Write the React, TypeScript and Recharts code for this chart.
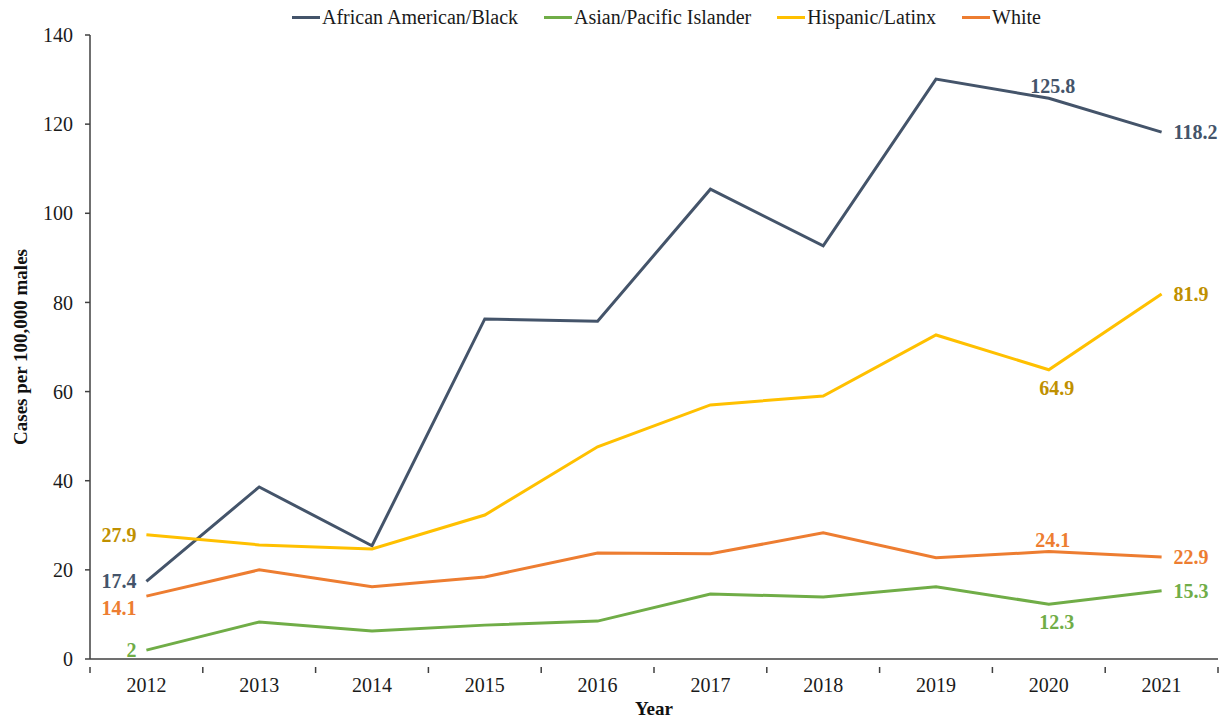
import React from 'react';
import { LineChart, Line, XAxis, YAxis, LabelList } from 'recharts';

// Cases per 100,000 males by race/ethnicity
const years = ['2012', '2013', '2014', '2015', '2016', '2017', '2018', '2019', '2020', '2021'];
const black = [17.4, 38.6, 25.4, 76.3, 75.8, 105.4, 92.7, 130.1, 125.8, 118.2];
const asian = [2, 8.3, 6.3, 7.6, 8.5, 14.6, 13.9, 16.2, 12.3, 15.3];
const hispanic = [27.9, 25.6, 24.7, 32.3, 47.6, 57.0, 59.0, 72.7, 64.9, 81.9];
const white = [14.1, 20.0, 16.2, 18.4, 23.8, 23.6, 28.3, 22.7, 24.1, 22.9];
const yTicks = [0, 20, 40, 60, 80, 100, 120, 140];

const data = years.map((year, i) => ({
  year,
  black: black[i],
  asian: asian[i],
  hispanic: hispanic[i],
  white: white[i],
}));

const FONT = '"Liberation Serif", "Times New Roman", serif';
const W = 1224;
const H = 720;
const M = { top: 35, right: 6, bottom: 0, left: 0 };
const Y_W = 90;
const X_H = 61;
const PLOT_W = W - M.left - M.right - Y_W;
const AXIS = '#404040';

const series = [
  { key: 'black', name: 'African American/Black', color: '#44546A', labelColor: '#44546A', spots: { 0: 'left', 8: 'top', 9: 'right' } },
  { key: 'asian', name: 'Asian/Pacific Islander', color: '#70AD47', labelColor: '#70AD47', spots: { 0: 'left', 8: 'bottom', 9: 'right' } },
  { key: 'hispanic', name: 'Hispanic/Latinx', color: '#FFC000', labelColor: '#BF9000', spots: { 0: 'left', 8: 'bottom', 9: 'right' } },
  { key: 'white', name: 'White', color: '#ED7D31', labelColor: '#ED7D31', spots: { 0: 'leftLow', 8: 'top', 9: 'right' } },
];

const makeLabel = (spots: Record<number, string>, color: string) => (props: any) => {
  const { x, y, value, index } = props;
  const spot = spots[index];
  if (!spot) return null;
  let tx = x;
  let ty = y;
  let anchor = 'middle';
  if (spot === 'left') { tx = x - 10; anchor = 'end'; }
  if (spot === 'leftLow') { tx = x - 10; ty = y + 12; anchor = 'end'; }
  if (spot === 'right') { tx = x + 12; anchor = 'start'; }
  if (spot === 'top') { tx = x + 4; ty = y - 12; }
  if (spot === 'bottom') { tx = x + 8; ty = y + 18; }
  return (
    <text x={tx} y={ty} dy="0.35em" textAnchor={anchor} fill={color} fontFamily={FONT} fontWeight="bold" fontSize={20}>
      {value}
    </text>
  );
};

const XTick = (props: any) => {
  const { x, y, payload, index } = props;
  const step = PLOT_W / years.length;
  return (
    <g>
      <line x1={x - step / 2} y1={y} x2={x - step / 2} y2={y + 6} stroke={AXIS} strokeWidth={1.5} />
      {index === years.length - 1 && (
        <line x1={x + step / 2} y1={y} x2={x + step / 2} y2={y + 6} stroke={AXIS} strokeWidth={1.5} />
      )}
      <text x={x} y={y + 18} dy="0.35em" textAnchor="middle" fill="#1a1a1a" fontFamily={FONT} fontSize={20}>
        {payload.value}
      </text>
    </g>
  );
};

const ChartLegend = () => (
  <div style={{ position: 'absolute', top: 6, left: 292, display: 'flex', gap: 26, fontFamily: FONT, fontSize: 20, color: '#1a1a1a', whiteSpace: 'nowrap' }}>
    {series.map((s) => (
      <div key={s.key} style={{ display: 'flex', alignItems: 'center' }}>
        <div style={{ width: 28, height: 3, background: s.color, marginRight: 2 }} />
        <span>{s.name}</span>
      </div>
    ))}
  </div>
);

const App = () => {
  return (
    <div style={{ position: 'absolute', left: 0, top: 0, width: W, height: H, background: '#fff' }}>
      <LineChart width={W} height={H} data={data} margin={M}>
        <XAxis
          dataKey="year"
          scale="band"
          height={X_H}
          axisLine={{ stroke: AXIS, strokeWidth: 1.5 }}
          tickLine={false}
          tick={<XTick />}
          interval={0}
          label={{ value: 'Year', position: 'insideBottom', offset: 5, fontFamily: FONT, fontWeight: 'bold', fontSize: 19, fill: '#111' }}
        />
        <YAxis
          width={Y_W}
          domain={[0, 140]}
          ticks={yTicks}
          interval={0}
          axisLine={{ stroke: AXIS, strokeWidth: 1.5 }}
          tickLine={{ stroke: AXIS, strokeWidth: 1.5 }}
          tickSize={5}
          tickMargin={12}
          tick={{ fontFamily: FONT, fontSize: 20, fill: '#1a1a1a' }}
          label={{ value: 'Cases per 100,000 males', angle: -90, position: 'insideLeft', offset: 20, style: { textAnchor: 'middle' }, fontFamily: FONT, fontWeight: 'bold', fontSize: 19, fill: '#111' }}
        />
        {series.map((s) => (
          <Line
            key={s.key}
            type="linear"
            dataKey={s.key}
            name={s.name}
            stroke={s.color}
            strokeWidth={3}
            dot={false}
            activeDot={false}
            isAnimationActive={false}
          >
            <LabelList dataKey={s.key} content={makeLabel(s.spots, s.labelColor)} />
          </Line>
        ))}
      </LineChart>
      <ChartLegend />
    </div>
  );
};

export default App;
